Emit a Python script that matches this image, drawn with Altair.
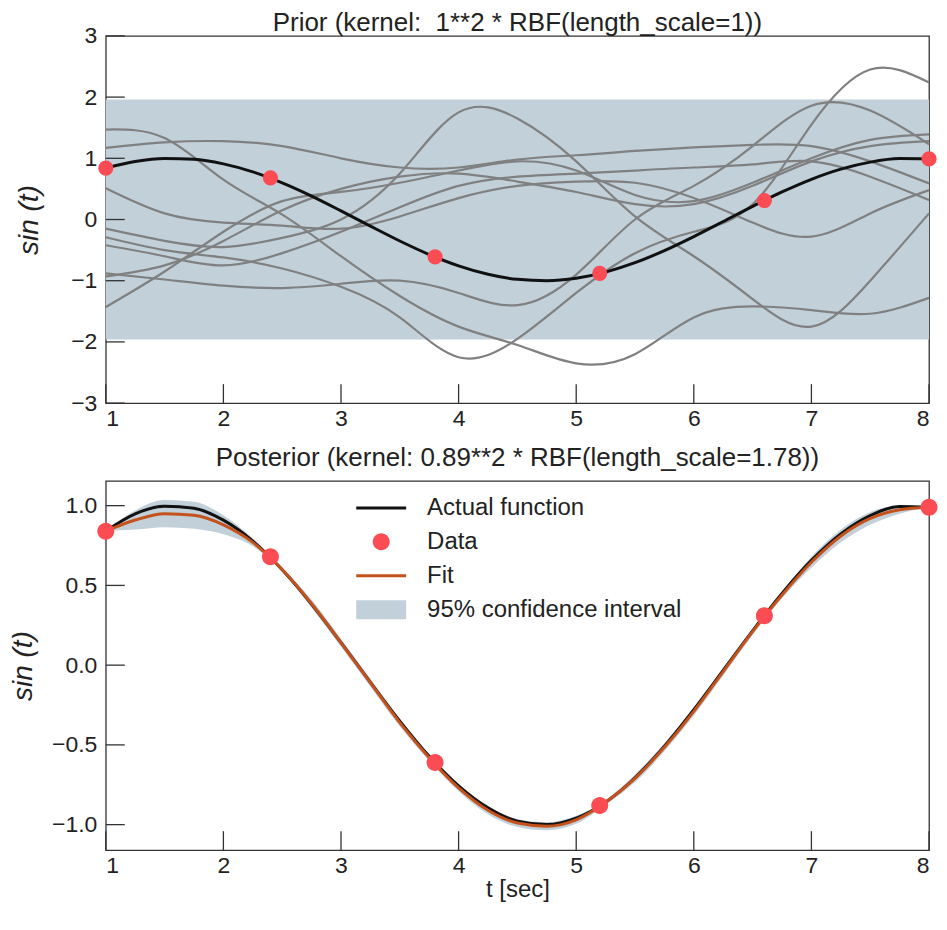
import altair as alt
import pandas as pd

# ---------------- data ----------------
T_GRID = [1.0, 1.5, 2.0, 2.5, 3.0, 3.5, 4.0, 4.5, 5.0, 5.5, 6.0, 6.5, 7.0, 7.5, 8.0]
PRIOR_SAMPLES = [
    [1.47, 1.33, 0.65, 0.08, -0.60, -1.25, -1.75, -2.05, -2.35, -2.20, -1.60, -1.42, -1.48, -1.54, -1.28],
    [-0.29, -0.50, -0.62, -0.80, -1.10, -1.60, -2.25, -1.95, -1.20, -0.55, -0.20, 0.25, 1.55, 2.45, 2.24],
    [-0.88, -0.98, -1.08, -1.12, -1.05, -1.00, -1.20, -1.40, -0.90, 0.00, 0.55, 1.20, 1.86, 1.78, 1.23],
    [1.17, 1.26, 1.28, 1.20, 1.00, 0.85, 0.85, 0.98, 1.05, 1.12, 1.18, 1.22, 1.20, 0.95, 0.59],
    [-0.15, -0.35, -0.45, -0.30, 0.00, 0.75, 1.75, 1.65, 0.95, 0.05, -0.60, -1.30, -1.75, -1.00, 0.10],
    [0.51, 0.10, -0.05, -0.10, -0.15, 0.05, 0.35, 0.55, 0.62, 0.60, 0.35, -0.05, -0.28, 0.10, 0.48],
    [-0.42, -0.60, -0.75, -0.55, -0.20, 0.20, 0.55, 0.70, 0.75, 0.80, 0.85, 0.90, 0.95, 0.70, 0.32],
    [-0.93, -0.75, -0.35, 0.15, 0.50, 0.70, 0.75, 0.62, 0.45, 0.25, 0.25, 0.55, 0.95, 1.20, 1.28],
    [-1.43, -0.85, -0.20, 0.30, 0.45, 0.60, 0.80, 0.95, 0.80, 0.40, 0.30, 0.60, 1.00, 1.30, 1.39],
]
PRIOR_LO = -1.96
PRIOR_HI = 1.96

CURVE_T = [1.0, 1.25, 1.5, 1.75, 2.0, 2.25, 2.5, 2.75, 3.0, 3.25, 3.5, 3.75, 4.0, 4.25, 4.5,
           4.75, 5.0, 5.25, 5.5, 5.75, 6.0, 6.25, 6.5, 6.75, 7.0, 7.25, 7.5, 7.75, 8.0]
ACTUAL_Y = [0.841, 0.949, 0.997, 0.984, 0.909, 0.778, 0.598, 0.382, 0.141, -0.108, -0.351, -0.572,
            -0.757, -0.895, -0.978, -0.999, -0.959, -0.859, -0.706, -0.508, -0.279, -0.033, 0.215,
            0.450, 0.657, 0.823, 0.938, 0.995, 0.989]
FIT_Y = [0.84, 0.91, 0.95, 0.94, 0.88, 0.77, 0.60, 0.385, 0.14, -0.11, -0.36, -0.58, -0.77, -0.91,
         -0.99, -1.01, -0.97, -0.86, -0.71, -0.515, -0.29, -0.04, 0.21, 0.44, 0.645, 0.81, 0.92, 0.975, 0.99]
FIT_LO = [0.84, 0.85, 0.865, 0.855, 0.82, 0.745, 0.588, 0.36, 0.115, -0.135, -0.385, -0.60, -0.79, -0.935,
          -1.015, -1.035, -0.995, -0.875, -0.735, -0.54, -0.315, -0.065, 0.19, 0.42, 0.61, 0.77, 0.88, 0.95, 0.99]
FIT_HI = [0.84, 0.97, 1.035, 1.025, 0.94, 0.795, 0.612, 0.41, 0.165, -0.085, -0.335, -0.56, -0.75, -0.885,
          -0.965, -0.985, -0.945, -0.845, -0.685, -0.49, -0.265, -0.015, 0.23, 0.46, 0.68, 0.85, 0.96, 1.0, 0.99]

DATA_T = [1.0, 2.4, 3.8, 5.2, 6.6, 8.0]
DATA_Y = [0.84, 0.68, -0.61, -0.88, 0.31, 0.99]

X_TICKS = [1, 2, 3, 4, 5, 6, 7, 8]
Y_TICKS_TOP = [-3, -2, -1, 0, 1, 2, 3]
Y_TICKS_BOT = [-1.0, -0.5, 0.0, 0.5, 1.0]

LEGEND_NAMES = ["Actual function", "Data", "Fit", "95% confidence interval"]
LEGEND_COLORS = ["#111111", "#fb4b53", "#c4521c", "#c2d0d9"]
LEGEND_SHAPES = ["M-2.5,-0.15H2.5V0.15H-2.5Z",
                 "M0.85,0A0.85,0.85 0 1,1 -0.85,0A0.85,0.85 0 1,1 0.85,0Z",
                 "M-2.5,-0.15H2.5V0.15H-2.5Z",
                 "M-2.5,-0.95H2.5V0.95H-2.5Z"]

TOP_TITLE = "Prior (kernel:\u00a0 1**2 * RBF(length_scale=1))"
BOT_TITLE = "Posterior (kernel: 0.89**2 * RBF(length_scale=1.78))"

# ---------------- style ----------------
FONT = "Liberation Sans"
W = 825
H1 = 368
H2 = 370
BAND = "#c2d0d9"
GRAY = "#808080"
TICK_LEN = 19

XDOM = [1, 8]
YDOM_TOP = [-3, 3]
YDOM_BOT = [-1.16, 1.155]

prior_rows = []
for i, vals in enumerate(PRIOR_SAMPLES):
    for t, y in zip(T_GRID, vals):
        prior_rows.append({"t": t, "y": y, "sample": i})
prior_df = pd.DataFrame(prior_rows)
curve_df = pd.DataFrame({"t": CURVE_T, "y": ACTUAL_Y, "fit": FIT_Y, "lo": FIT_LO, "hi": FIT_HI})
data_df = pd.DataFrame({"t": DATA_T, "y": DATA_Y, "series": ["Data"] * len(DATA_T)})
band_df = pd.DataFrame({"t": XDOM, "lo": [PRIOR_LO, PRIOR_LO], "hi": [PRIOR_HI, PRIOR_HI]})
xt_df = pd.DataFrame({"t": X_TICKS})


def xenc(show_title):
    ax = alt.Axis(values=X_TICKS, ticks=False, tickSize=0, domain=False, grid=False,
                  labelFontSize=23, labelPadding=4, labelFlush=True, labelOverlap=False,
                  format="d", titleFontSize=24, titleFontWeight="normal", titlePadding=0,
                  title="t [sec]" if show_title else None)
    return alt.X("t:Q", scale=alt.Scale(domain=XDOM, nice=False, zero=False), axis=ax)


def yenc(dom, values, fmt, tpad):
    ax = alt.Axis(values=values, ticks=False, tickSize=0, domain=False, grid=False,
                  labelFontSize=23, labelPadding=9, labelFlush=False, labelOverlap=False,
                  format=fmt, title="sin (t)", titleFontSize=28, titleFontStyle="italic",
                  titleFontWeight="normal", titlePadding=tpad)
    return alt.Y("y:Q", scale=alt.Scale(domain=dom, nice=False, zero=False), axis=ax)


def yscale(dom):
    return alt.Scale(domain=dom, nice=False, zero=False)


# ---------------- top panel ----------------
yt = yenc(YDOM_TOP, Y_TICKS_TOP, "d", 27)
top_band = alt.Chart(band_df).mark_area(color=BAND, opacity=1).encode(
    x=xenc(False), y=alt.Y("lo:Q", scale=yscale(YDOM_TOP)), y2="hi:Q")
top_samples = alt.Chart(prior_df).mark_line(color=GRAY, strokeWidth=2.2, interpolate="natural").encode(
    x=xenc(False), y=yt, detail="sample:N")
top_actual = alt.Chart(curve_df).mark_line(color="#111111", strokeWidth=3, interpolate="monotone").encode(
    x=xenc(False), y=yt)
top_dots = alt.Chart(data_df).mark_circle(color="#fb4b53", size=230, opacity=1).encode(
    x=xenc(False), y=yt)
top_xticks = alt.Chart(xt_df).mark_rule(color="#333333", strokeWidth=1.3).encode(
    x=xenc(False), y=alt.value(H1), y2=alt.value(H1 - TICK_LEN))
top_yticks = alt.Chart(pd.DataFrame({"y": Y_TICKS_TOP})).mark_rule(color="#333333", strokeWidth=1.3).encode(
    y=yt, x=alt.value(0), x2=alt.value(TICK_LEN))

top = alt.layer(top_band, top_samples, top_actual, top_dots, top_xticks, top_yticks).properties(
    width=W, height=H1, title=alt.TitleParams(TOP_TITLE, offset=-11))

# ---------------- bottom panel ----------------
yb = yenc(YDOM_BOT, Y_TICKS_BOT, ".1f", 14)
legend = alt.Legend(
    title=None, orient="none", legendX=264, legendY=15, labelFontSize=24, labelFont=FONT,
    labelColor="#222222", symbolSize=400, labelOffset=34, rowPadding=10, padding=0,
    symbolStrokeWidth=0, symbolOpacity=1, labelLimit=500)

bot_band = alt.Chart(curve_df).mark_area(color=BAND, opacity=1, interpolate="monotone").encode(
    x=xenc(True), y=alt.Y("lo:Q", scale=yscale(YDOM_BOT)), y2="hi:Q")
bot_actual = alt.Chart(curve_df).mark_line(color="#111111", strokeWidth=3, interpolate="monotone").encode(
    x=xenc(True), y=yb)
bot_fit = alt.Chart(curve_df).mark_line(color="#c4521c", strokeWidth=3, interpolate="monotone").encode(
    x=xenc(True), y=alt.Y("fit:Q", scale=yscale(YDOM_BOT)))
bot_dots = alt.Chart(data_df).mark_point(filled=True, size=400, opacity=1).encode(
    x=xenc(True), y=yb,
    color=alt.Color("series:N", scale=alt.Scale(domain=LEGEND_NAMES, range=LEGEND_COLORS), legend=legend),
    shape=alt.Shape("series:N", scale=alt.Scale(domain=LEGEND_NAMES, range=LEGEND_SHAPES), legend=legend))
bot_xticks = alt.Chart(xt_df).mark_rule(color="#333333", strokeWidth=1.3).encode(
    x=xenc(True), y=alt.value(H2), y2=alt.value(H2 - TICK_LEN))
bot_yticks = alt.Chart(pd.DataFrame({"y": Y_TICKS_BOT})).mark_rule(color="#333333", strokeWidth=1.3).encode(
    y=yb, x=alt.value(0), x2=alt.value(TICK_LEN))

bottom = alt.layer(bot_band, bot_actual, bot_fit, bot_dots, bot_xticks, bot_yticks).properties(
    width=W, height=H2, title=alt.TitleParams(BOT_TITLE, offset=10))

chart = alt.vconcat(top, bottom, spacing=13).resolve_legend(
    color="independent", shape="independent"
).resolve_scale(
    color="independent", shape="independent"
).properties(
    padding={"left": 0, "top": 0, "right": 0, "bottom": 0}
).configure_view(
    stroke="#333333", strokeWidth=1.3
).configure_axis(
    labelFont=FONT, titleFont=FONT, labelColor="#222222", titleColor="#222222"
).configure_title(
    font=FONT, fontSize=26, fontWeight="normal", color="#222222", anchor="middle"
)

chart.save("out.html", embed_options={"renderer": "svg", "actions": False})
